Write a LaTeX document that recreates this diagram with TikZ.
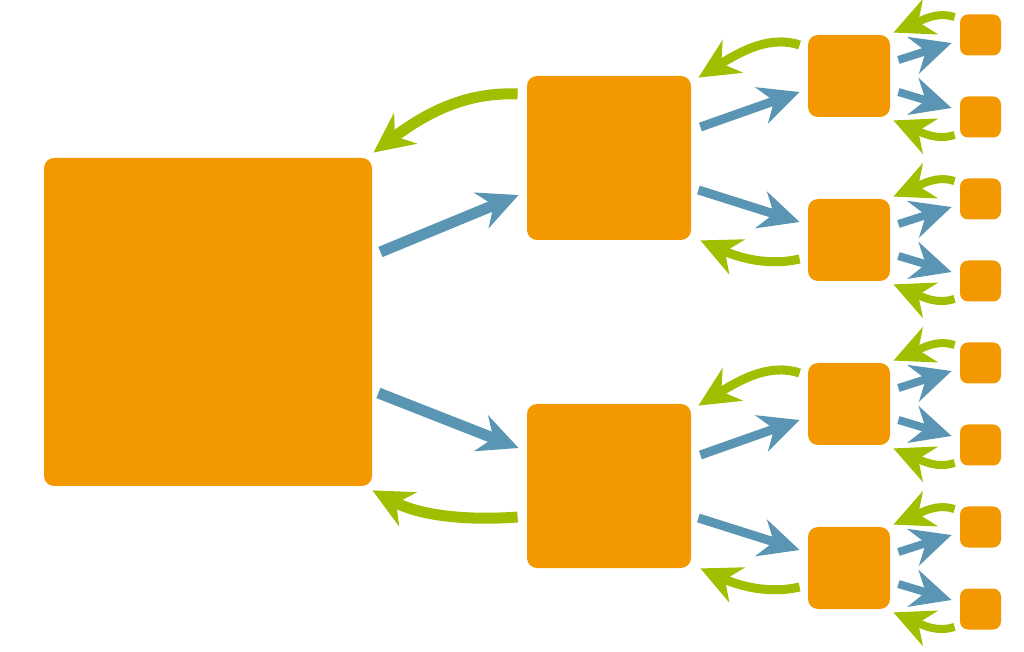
\documentclass[tikz,border=0pt]{standalone}
\usetikzlibrary{arrows.meta,calc}
\definecolor{Box}{HTML}{F39800}
\definecolor{Push}{HTML}{5A96B4}
\definecolor{Back}{HTML}{9FC000}

\begin{document}
\begin{tikzpicture}[x=0.5pt,y=-0.5pt,
  box/.style={fill=Box,rounded corners=5pt,inner sep=0pt,minimum size=#1},
  fwd/.style={draw=Push,line width=#1,-{Stealth[length=20pt,width=19pt,inset=6.5pt]}},
  bwd/.style={draw=Back,line width=#1,-{Stealth[length=20pt,width=19pt,inset=6.5pt]}}]
\useasboundingbox (0,0) rectangle (1024,652);
\node[box=164pt] (n1) at (208,322) {};
\node[box=82pt] (n2a) at (609,158) {};
\node[box=82pt] (n2b) at (609,486) {};
\foreach \i/\y in {a/76,b/240,c/404,d/568} \node[box=41pt] (n3\i) at (849,\y) {};
\foreach \i/\y in {a/35,b/117,c/199,d/281,e/363,f/445,g/527,h/609} \node[box=20.5pt,rounded corners=4pt] (n4\i) at (980.5,\y) {};
\draw[fwd=5.5pt] ($(n1.east)+(8,-70)$) -- ($(n2a.west)+(-8,37)$);
\draw[fwd=5.5pt] ($(n1.east)+(6,71)$) -- ($(n2b.west)+(-8,-38)$);
\draw[bwd=5.5pt] ($(n2a.west)+(-9,-64)$) .. controls +(-48,-2) and +(57,-43) .. ($(n1.north east)+(1,-5)$);
\draw[bwd=5.5pt] ($(n2b.west)+(-9,31)$) .. controls +(-38,3) and +(53,28) .. ($(n1.south east)+(0,4)$);
\foreach \p/\u/\d in {n2a/n3a/n3b,n2b/n3c/n3d} {
  \draw[fwd=4.5pt] ($(\p.east)+(9,-31)$) -- ($(\u.west)+(-8,16)$);
  \draw[fwd=4.5pt] ($(\p.east)+(7,32)$) -- ($(\d.west)+(-8,-18)$);
  \draw[bwd=4.5pt] ($(\u.west)+(-8,-31)$) .. controls +(-30,-10) and +(42,-26) .. ($(\p.north east)+(7,2)$);
  \draw[bwd=4.5pt] ($(\d.west)+(-8,19)$) .. controls +(-30,7) and +(40,18) .. ($(\p.south east)+(9,0)$);
}
\foreach \p/\u/\d in {n3a/n4a/n4b,n3b/n4c/n4d,n3c/n4e/n4f,n3d/n4g/n4h} {
  \draw[fwd=4pt] ($(\p.east)+(8,-16)$) -- ($(\u.west)+(-8,8)$);
  \draw[fwd=4pt] ($(\p.east)+(8,16)$) -- ($(\d.west)+(-8,-9)$);
  \draw[bwd=4pt] ($(\u.north west)+(-5,3)$) .. controls +(-18,-6) and +(28,-12) .. ($(\p.north east)+(3,-2)$);
  \draw[bwd=4pt] ($(\d.south west)+(-5,-3)$) .. controls +(-18,6) and +(28,12) .. ($(\p.south east)+(3,3)$);
}
\end{tikzpicture}
\end{document}
